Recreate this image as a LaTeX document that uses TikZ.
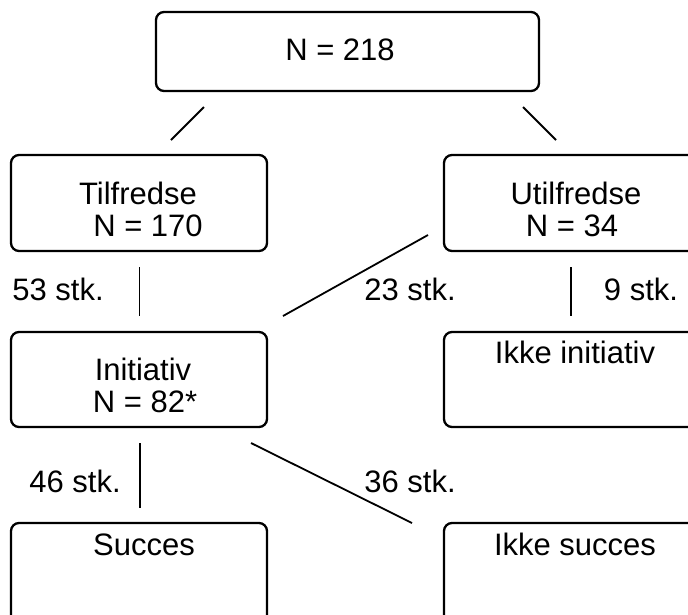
\documentclass[tikz,border=0pt]{standalone}
\usepackage{fontspec}
\setmainfont{Liberation Sans}
\begin{document}
\begin{tikzpicture}[x=1pt,y=-1pt,
  box/.style={draw,line width=2.3pt,rounded corners=8pt,inner sep=0pt},
  lbl/.style={inner sep=0pt,anchor=base,font=\fontsize{31}{32}\selectfont},
  conn/.style={line width=1.8pt}]
\useasboundingbox (0,0) rectangle (688,614);
\clip (0,0) rectangle (688,614);
% boxes
\node[box,minimum width=383pt,minimum height=79pt] (top) at (347.5,51.5) {};
\node[box,minimum width=256pt,minimum height=96pt] (tilf) at (139,203) {};
\node[box,minimum width=270pt,minimum height=96pt] (util) at (579,203) {};
\node[box,minimum width=256pt,minimum height=95pt] (init) at (139,379.5) {};
\node[box,minimum width=270pt,minimum height=95pt] (ikinit) at (579,379.5) {};
\node[box,minimum width=256pt,minimum height=100pt] (succ) at (139,573) {};
\node[box,minimum width=270pt,minimum height=100pt] (iksucc) at (579,573) {};
% texts
\node[lbl] (t0) at (340,60) {N = 218};
\node[lbl] (t1a) at (138,204) {Tilfredse};
\node[lbl] (t1b) at (148,236) {N = 170};
\node[lbl] (t2a) at (576,204) {Utilfredse};
\node[lbl] (t2b) at (572,236) {N = 34};
\node[lbl] (t3a) at (143,380) {Initiativ};
\node[lbl] (t3b) at (145,412) {N = 82*};
\node[lbl] (t4) at (575,363) {Ikke initiativ};
\node[lbl] (t5) at (144,555) {Succes};
\node[lbl] (t6) at (575,555) {Ikke succes};
\node[lbl] (s53) at (58,300) {53 stk.};
\node[lbl] (s23) at (410,300) {23 stk.};
\node[lbl] (s9) at (641,300) {9 stk.};
\node[lbl] (s46) at (75,492) {46 stk.};
\node[lbl] (s36) at (410,492) {36 stk.};
% connector end points
\coordinate (a1) at (204,107); \coordinate (a2) at (171,140);
\coordinate (b1) at (523,107); \coordinate (b2) at (556,140);
\coordinate (c1) at (139.5,267); \coordinate (c2) at (139.5,316);
\coordinate (d1) at (571,267); \coordinate (d2) at (571,316);
\coordinate (e1) at (428,235); \coordinate (e2) at (283,316);
\coordinate (f1) at (140,443); \coordinate (f2) at (140,508);
\coordinate (g1) at (251,443); \coordinate (g2) at (412,523);
\draw[conn] (a1) -- (a2);
\draw[conn] (b1) -- (b2);
\draw[conn] (c1) -- (c2);
\draw[conn] (d1) -- (d2);
\draw[conn] (e1) -- (e2);
\draw[conn] (f1) -- (f2);
\draw[conn] (g1) -- (g2);
\end{tikzpicture}
\end{document}
